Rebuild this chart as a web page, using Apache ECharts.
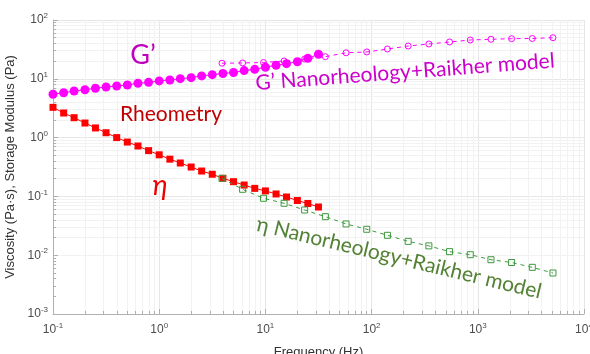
<!DOCTYPE html>
<html>
<head>
<meta charset="utf-8">
<script src="https://cdn.jsdelivr.net/npm/echarts@6/dist/echarts.min.js"></script>
<style>
  html, body { margin: 0; padding: 0; background: #fff; }
  #chart { width: 590px; height: 354px; }
</style>
</head>
<body>
<div id="chart"></div>
<script>
// rheometer frequencies (Hz) and nanorheology frequencies (Hz)
var rheoFreq = [0.1, 0.126, 0.158, 0.2, 0.251, 0.316, 0.398, 0.501, 0.631, 0.794,
    1, 1.26, 1.58, 2, 2.51, 3.16, 3.98, 5.01, 6.31, 7.94,
    10, 12.6, 15.8, 20, 25.1, 31.6];
var nanoFreq = [3.9, 6.1, 9.6, 15, 23.4, 36.7, 57.5, 90, 141, 221, 346, 542, 849, 1330, 2080, 3260, 5100];

// G' (Pa) and eta (Pa s)
var gRheo = [5.45, 5.8, 6.2, 6.5, 6.9, 7.26, 7.55, 7.85, 8.4, 8.7,
    9.2, 9.55, 10.05, 10.45, 11.2, 11.75, 12.3, 12.8, 13.8, 14.5,
    15.7, 17.0, 18.1, 19.5, 22.3, 26.1];
var etaRheo = [3.27, 2.62, 2.18, 1.77, 1.46, 1.21, 1.0, 0.84, 0.72, 0.60,
    0.51, 0.43, 0.37, 0.316, 0.27, 0.238, 0.203, 0.178, 0.156, 0.137,
    0.124, 0.110, 0.0977, 0.0852, 0.0757, 0.066];
var gNano = [18.4, 18.6, 18.9, 20.1, 21.7, 23.8, 27.7, 28.6, 32.1, 36.1,
    39.1, 42.3, 45.7, 47.0, 48.1, 48.5, 50.0];
var etaNano = [0.203, 0.132, 0.0929, 0.0764, 0.0587, 0.0452, 0.0340, 0.0276, 0.0218, 0.0172,
    0.0144, 0.0115, 0.0102, 0.00838, 0.00751, 0.00622, 0.00498];

var xMin = 0.1, xMax = 10000, yMin = 0.001, yMax = 100;

function pairs(xs, ys) {
    var out = [];
    for (var i = 0; i < xs.length; i++) out.push([xs[i], ys[i]]);
    return out;
}

// 2..9 x each decade
function minorValues(lo, hi) {
    var out = [];
    for (var d = lo; d < hi; d++) {
        for (var m = 2; m <= 9; m++) out.push(m * Math.pow(10, d));
    }
    return out;
}

var minorX = minorValues(-1, 4);
var minorY = minorValues(-3, 2);

// light minor grid lines
var minorGrid = minorX.map(function (v) { return { xAxis: v }; })
    .concat(minorY.map(function (v) { return { yAxis: v }; }));

// short inward minor ticks on both axes
var minorTicks = minorX.map(function (v) { return [{ coord: [v, yMin] }, { coord: [v, yMin * 1.13] }]; })
    .concat(minorY.map(function (v) { return [{ coord: [xMin, v] }, { coord: [xMin * 1.07, v] }]; }));

function powLabel(v) {
    var e = Math.round(Math.log10(v));
    return '{b|10}{s|' + e + '}';
}

var labelRich = {
    b: { fontSize: 12, color: '#4d4d4d', fontFamily: 'Liberation Sans' },
    s: { fontSize: 8, color: '#4d4d4d', fontFamily: 'Liberation Sans', verticalAlign: 'top', padding: [0, 0, 8, 0] }
};

var dom = document.getElementById('chart');
var myChart = echarts.init(dom);

var option = {
    animation: false,
    grid: { left: 53, right: 6, top: 20, bottom: 40, outerBoundsMode: 'none', containLabel: false },
    xAxis: {
        type: 'log',
        logBase: 10,
        min: xMin,
        max: xMax,
        name: 'Frequency (Hz)',
        nameLocation: 'middle',
        nameGap: 32,
        nameTextStyle: { fontSize: 13, color: '#333', fontFamily: 'Liberation Sans' },
        axisLine: { lineStyle: { color: '#b0b0b0' } },
        axisTick: { inside: true, length: 5, lineStyle: { color: '#b0b0b0' } },
        axisLabel: { formatter: powLabel, rich: labelRich, margin: 8 },
        splitLine: { show: true, lineStyle: { color: '#e6e6e6' } }
    },
    yAxis: {
        type: 'log',
        logBase: 10,
        min: yMin,
        max: yMax,
        name: 'Viscosity (Pa·s), Storage Modulus (Pa)',
        nameLocation: 'middle',
        nameGap: 36,
        nameTextStyle: { fontSize: 13, color: '#333', fontFamily: 'Liberation Sans' },
        axisLine: { lineStyle: { color: '#b0b0b0' } },
        axisTick: { inside: true, length: 5, lineStyle: { color: '#b0b0b0' } },
        axisLabel: { formatter: powLabel, rich: labelRich, margin: 5 },
        splitLine: { show: true, lineStyle: { color: '#e6e6e6' } }
    },
    series: [
        {
            name: 'grid',
            type: 'line',
            data: [],
            silent: true,
            z: 0,
            markLine: {
                silent: true,
                z: 0,
                symbol: 'none',
                label: { show: false },
                emphasis: { disabled: true },
                lineStyle: { color: '#f2f2f2', type: 'solid', width: 1 },
                data: minorGrid
            }
        },
        {
            name: 'ticks',
            type: 'line',
            data: [],
            silent: true,
            z: 1,
            markLine: {
                silent: true,
                z: 1,
                symbol: 'none',
                label: { show: false },
                emphasis: { disabled: true },
                lineStyle: { color: '#b0b0b0', type: 'solid', width: 1 },
                data: minorTicks
            }
        },
        {
            name: "G' Nanorheology+Raikher model",
            type: 'line',
            data: pairs(nanoFreq, gNano),
            symbol: 'circle',
            symbolSize: 6,
            itemStyle: { color: 'rgba(0,0,0,0)', borderColor: '#ff00ff', borderWidth: 1 },
            lineStyle: { color: '#ff00ff', width: 1, type: [4, 4] },
            z: 3
        },
        {
            name: "G' Rheometry",
            type: 'line',
            data: pairs(rheoFreq, gRheo),
            symbol: 'circle',
            symbolSize: 9,
            itemStyle: { color: '#ff00ff' },
            lineStyle: { color: '#ff00ff', width: 1 },
            z: 4
        },
        {
            name: 'η Rheometry',
            type: 'line',
            data: pairs(rheoFreq, etaRheo),
            symbol: 'rect',
            symbolSize: 7,
            itemStyle: { color: '#ff0000' },
            lineStyle: { color: '#ff0000', width: 1 },
            z: 4
        },
        {
            name: 'η Nanorheology+Raikher model',
            type: 'line',
            data: pairs(nanoFreq, etaNano),
            symbol: 'rect',
            symbolSize: 6,
            itemStyle: { color: 'rgba(0,0,0,0)', borderColor: '#3d9a3d', borderWidth: 1 },
            lineStyle: { color: '#3d9a3d', width: 1, type: [4, 4] },
            z: 5
        }
    ],
    graphic: [
        {
            type: 'text', x: 143, y: 55, z: 10,
            style: { text: 'G’', fontSize: 27, fill: '#bf00bf', fontFamily: 'Lato', align: 'center', verticalAlign: 'middle' }
        },
        {
            type: 'text', x: 405, y: 72, rotation: 4.3 * Math.PI / 180, z: 10,
            style: { text: 'G’ Nanorheology+Raikher model', fontSize: 21, fill: '#cc00cc', fontFamily: 'Lato', align: 'center', verticalAlign: 'middle' }
        },
        {
            type: 'text', x: 171, y: 114, z: 10,
            style: { text: 'Rheometry', fontSize: 21, fill: '#c00000', fontFamily: 'Lato', align: 'center', verticalAlign: 'middle' }
        },
        {
            type: 'text', x: 160, y: 186, z: 10,
            style: { text: 'η', fontSize: 28, fontStyle: 'italic', fill: '#ee0000', fontFamily: 'Lato', align: 'center', verticalAlign: 'middle' }
        },
        {
            type: 'text', x: 399, y: 258, rotation: -13.5 * Math.PI / 180, z: 10,
            style: { text: 'η Nanorheology+Raikher model', fontSize: 21, fill: '#548235', fontFamily: 'Lato', align: 'center', verticalAlign: 'middle' }
        }
    ]
};

if (option && typeof option === 'object') {
    myChart.setOption(option);
}
</script>
</body>
</html>
